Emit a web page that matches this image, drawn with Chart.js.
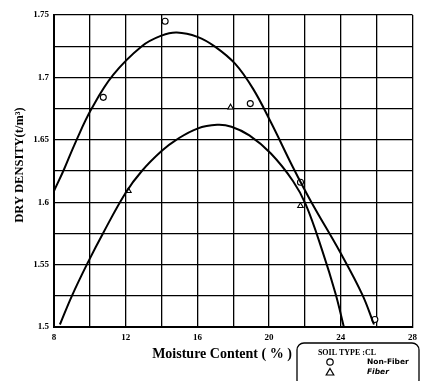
<!DOCTYPE html>
<html>
<head>
<meta charset="utf-8">
<script src="https://cdn.jsdelivr.net/npm/chart.js@4/dist/chart.umd.min.js"></script>
<style>
  html, body { margin: 0; padding: 0; background: #fff; }
  #wrap { width: 422px; height: 381px; position: relative; }
</style>
</head>
<body>
<div id="wrap"><canvas id="chart"></canvas></div>
<script>
// fitted curves
const nonFiberCurveX = [8.0, 8.55, 9.2, 10.1, 11.3, 12.9, 14.0, 14.85, 16.0, 17.0, 18.1, 19.1, 20.1, 21.33, 22.36, 23.95, 25.2, 25.85];
const nonFiberCurveY = [1.609, 1.626, 1.648, 1.675, 1.702, 1.725, 1.7335, 1.736, 1.7325, 1.7245, 1.711, 1.691, 1.664, 1.628, 1.600, 1.5603, 1.526, 1.502];
const fiberCurveX = [8.33, 9.0, 9.9, 10.73, 12.0, 12.9, 14.0, 14.82, 16.0, 17.1, 17.9, 18.9, 20.1, 21.33, 22.05, 22.97, 23.7, 24.17];
const fiberCurveY = [1.502, 1.525, 1.552, 1.575, 1.6076, 1.625, 1.641, 1.650, 1.659, 1.662, 1.6605, 1.6535, 1.639, 1.617, 1.598, 1.561, 1.527, 1.5];

// measured points
const nonFiberX = [10.75, 14.2, 18.95, 21.75, 25.9];
const nonFiberY = [1.684, 1.745, 1.679, 1.616, 1.506];
const fiberX = [12.15, 17.85, 21.75];
const fiberY = [1.609, 1.676, 1.597];

const xTicks = [8, 12, 16, 20, 24, 28];
const yTicks = [1.5, 1.55, 1.6, 1.65, 1.7, 1.75];

const pts = (xs, ys) => xs.map((x, i) => ({ x: x, y: ys[i] }));
const serif = '"Liberation Serif", "DejaVu Serif", serif';
const sans = '"DejaVu Sans", sans-serif';

const extraText = {
  id: 'extraText',
  afterDraw(chart) {
    const c = chart.ctx;
    c.save();
    c.fillStyle = '#000';
    c.strokeStyle = '#000';

    // y axis title
    c.save();
    c.translate(20, 165);
    c.rotate(-Math.PI / 2);
    c.font = 'bold 12.5px ' + serif;
    c.textAlign = 'center';
    c.textBaseline = 'middle';
    c.fillText('DRY DENSITY(t/m³)', 0, 0);
    c.restore();

    // x axis title
    c.font = 'bold 14px ' + serif;
    c.textAlign = 'center';
    c.textBaseline = 'middle';
    c.fillText('Moisture Content ( % )', 222, 354);

    // legend box
    c.lineWidth = 1.3;
    c.beginPath();
    c.roundRect(297, 343, 122, 44, 7);
    c.stroke();
    c.font = 'bold 8px ' + serif;
    c.fillText('SOIL TYPE :CL', 347, 353);
    c.textAlign = 'left';
    c.font = 'bold 7.5px ' + sans;
    c.fillText('Non-Fiber', 367, 362.5);
    c.font = 'italic bold 7.5px ' + sans;
    c.fillText('Fiber', 367, 372.5);
    c.lineWidth = 1.2;
    c.beginPath();
    c.arc(330, 362, 3.2, 0, Math.PI * 2);
    c.stroke();
    c.beginPath();
    c.moveTo(330, 368.5);
    c.lineTo(333.8, 375);
    c.lineTo(326.2, 375);
    c.closePath();
    c.stroke();
    c.restore();
  }
};

new Chart(document.getElementById('chart'), {
  type: 'scatter',
  data: {
    datasets: [
      { label: 'Non-Fiber curve', data: pts(nonFiberCurveX, nonFiberCurveY), showLine: true,
        borderColor: '#000', borderWidth: 2, pointRadius: 0, tension: 0.4 },
      { label: 'Fiber curve', data: pts(fiberCurveX, fiberCurveY), showLine: true,
        borderColor: '#000', borderWidth: 2, pointRadius: 0, tension: 0.4 },
      { label: 'Non-Fiber', data: pts(nonFiberX, nonFiberY), pointStyle: 'circle', pointRadius: 3,
        borderColor: '#000', borderWidth: 1.1, backgroundColor: '#fff' },
      { label: 'Fiber', data: pts(fiberX, fiberY), pointStyle: 'triangle', pointRadius: 3.2,
        borderColor: '#000', borderWidth: 1.1, backgroundColor: '#fff' }
    ]
  },
  options: {
    responsive: true,
    maintainAspectRatio: false,
    animation: false,
    layout: { padding: { left: 0, top: 15, right: 6, bottom: 0 } },
    plugins: { legend: { display: false }, tooltip: { enabled: false } },
    scales: {
      x: {
        type: 'linear', min: 8, max: 28,
        afterFit: s => { s.height = 54; },
        ticks: {
          stepSize: 2, autoSkip: false, maxRotation: 0, padding: 5, color: '#000',
          font: { family: serif, size: 9, weight: 'bold' },
          callback: v => xTicks.includes(v) ? String(v) : ''
        },
        grid: { color: '#000', lineWidth: 1.3, drawTicks: false },
        border: { color: '#000', width: 2 }
      },
      y: {
        type: 'linear', min: 1.5, max: 1.75,
        afterFit: s => { s.width = 54; },
        ticks: {
          stepSize: 0.025, autoSkip: false, padding: 5, color: '#000',
          font: { family: serif, size: 9, weight: 'bold' },
          callback: v => {
            const r = Math.round(v * 1000) / 1000;
            return yTicks.some(t => Math.abs(t - r) < 1e-6) ? String(r) : '';
          }
        },
        grid: { color: '#000', lineWidth: 1.3, drawTicks: false },
        border: { color: '#000', width: 2 }
      }
    }
  },
  plugins: [extraText]
});
</script>
</body>
</html>
